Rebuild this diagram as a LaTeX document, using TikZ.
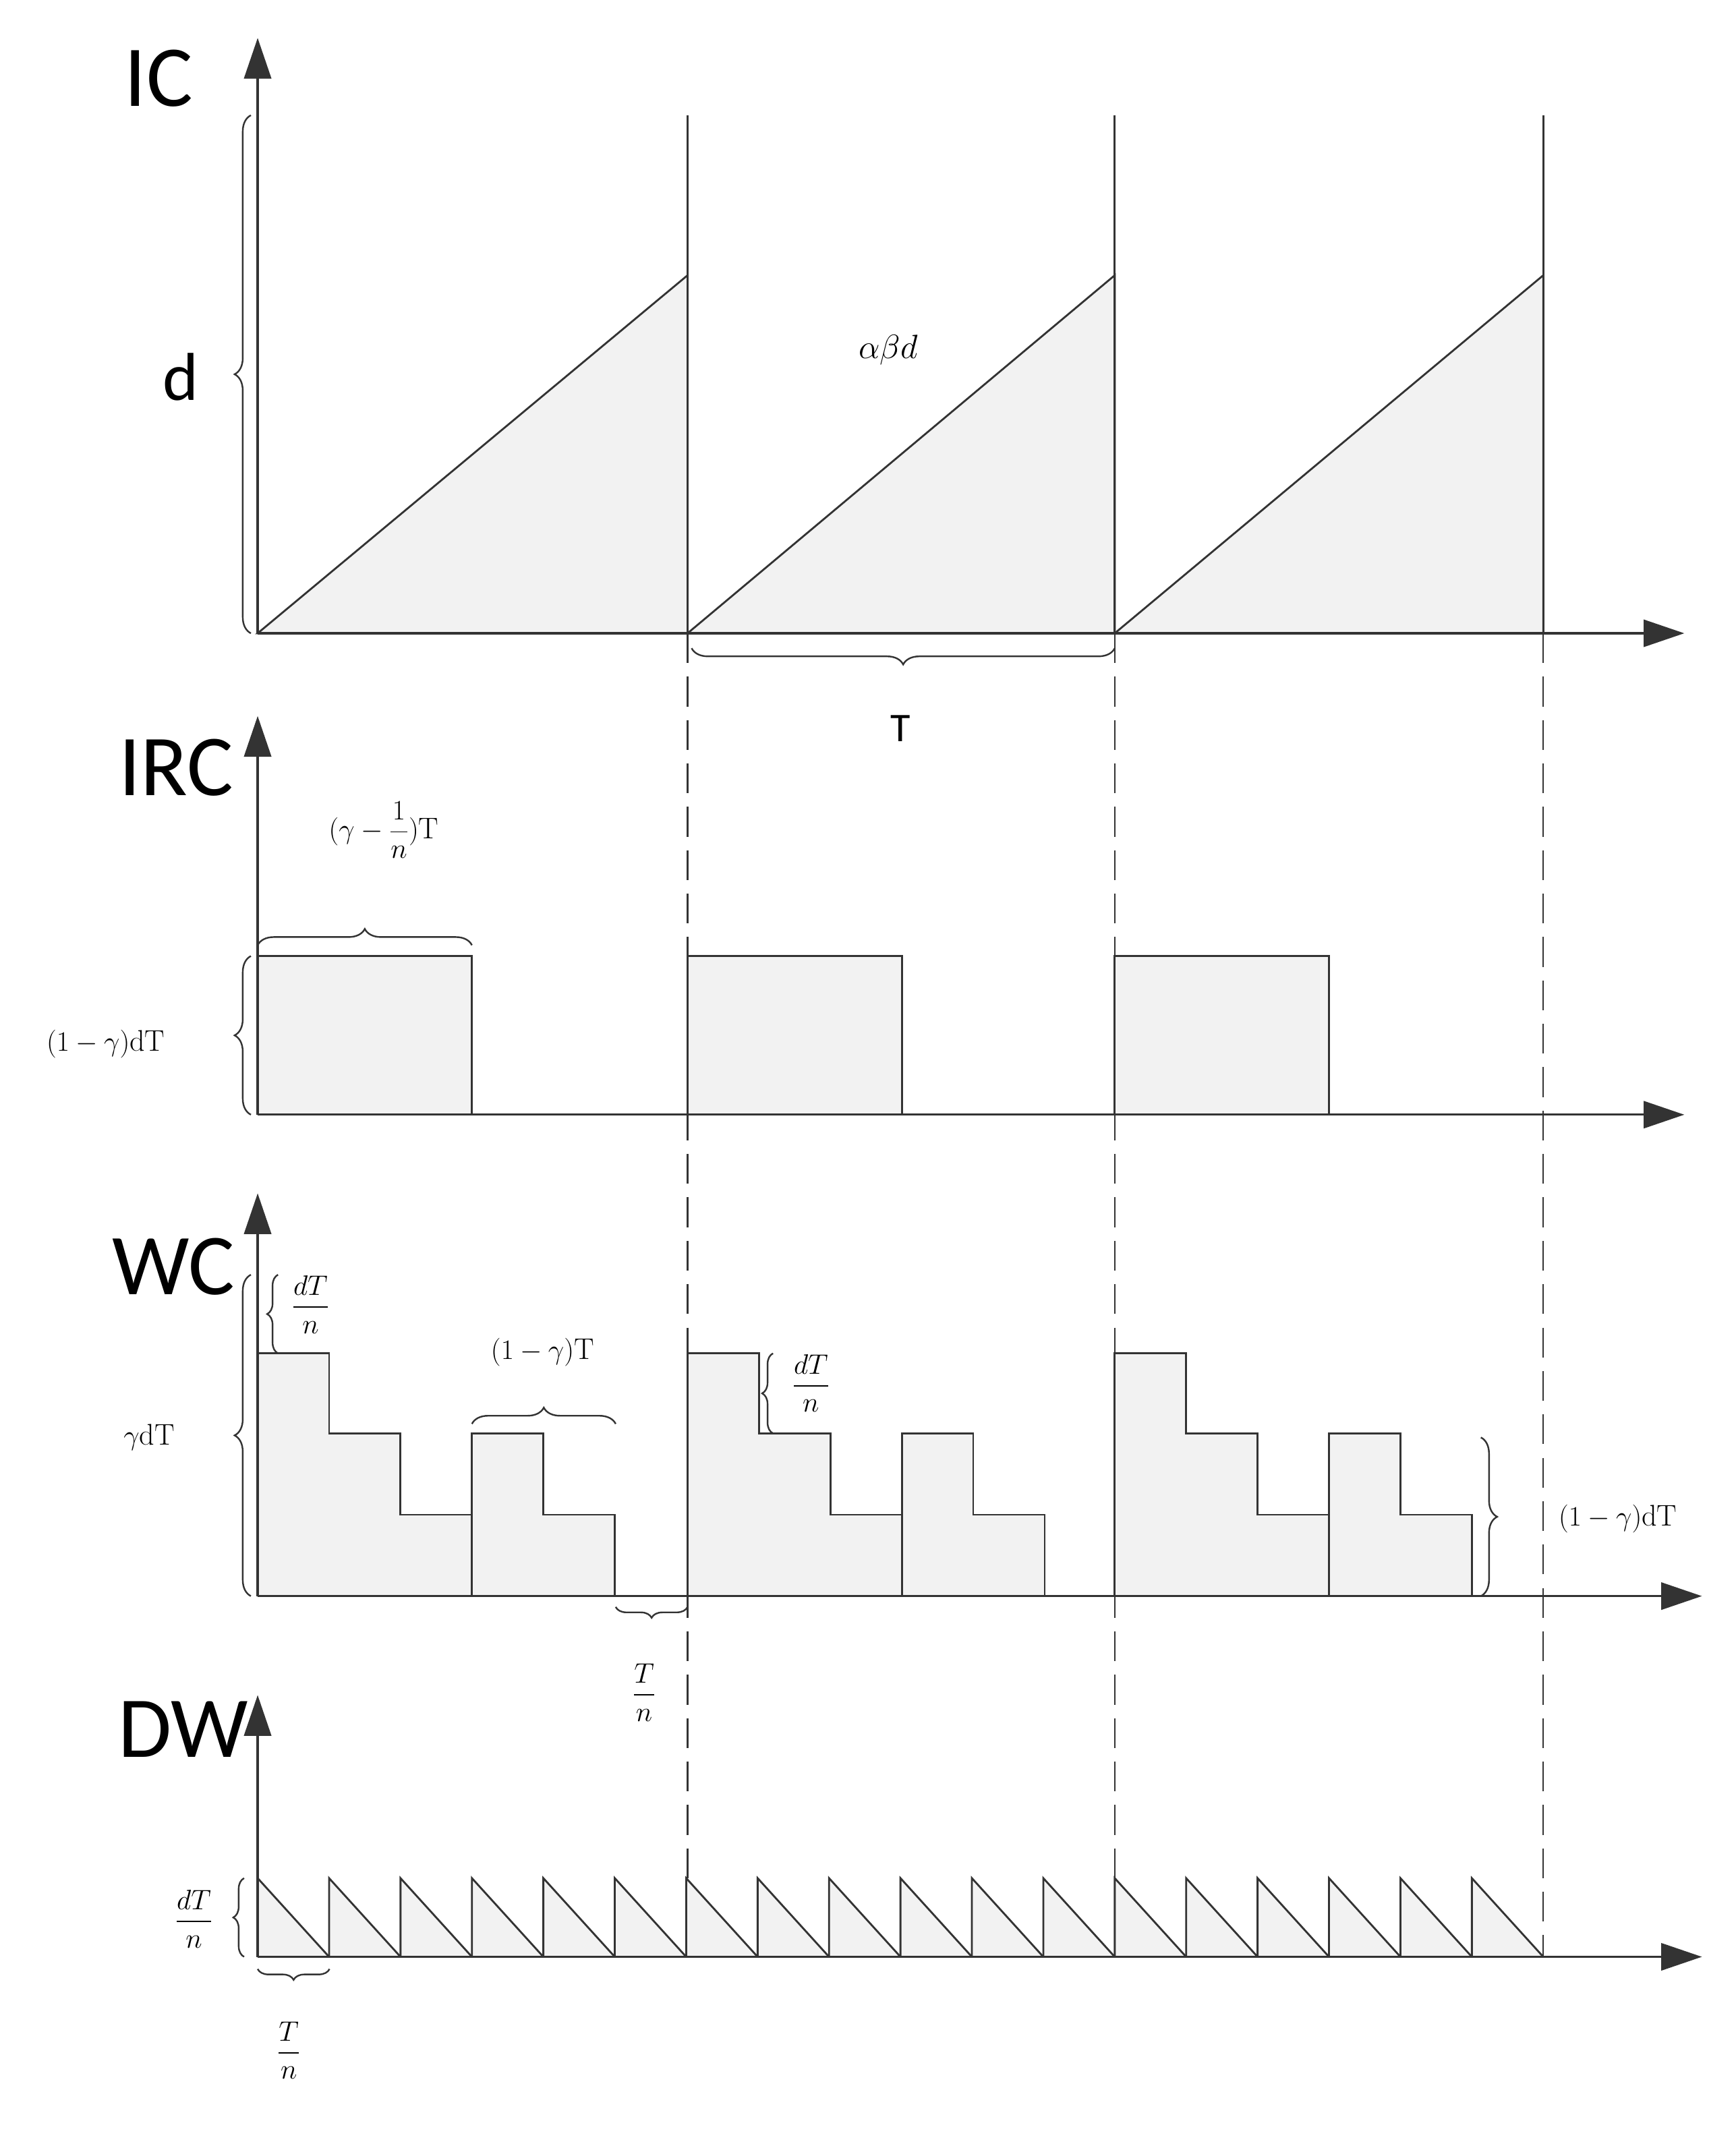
\documentclass[tikz,border=0pt]{standalone}
\usepackage{amsmath}
\usepackage{fontspec}
\newfontfamily\carl{Carlito}
\usetikzlibrary{arrows.meta,decorations.pathreplacing}
\begin{document}
\begin{tikzpicture}[x=1pt,y=-1pt,
 ax/.style={line width=1.6pt,draw=black!80,-{Triangle[length=30pt,width=20pt]}},
 ln/.style={line width=1.4pt,draw=black!80},
 sh/.style={ln,fill=black!5},
 br/.style={line width=1.2pt,draw=black!80,decorate,decoration={brace,amplitude=12pt}},
 big/.style={font=\carl\fontsize{64}{70}\selectfont},
 lab/.style={font=\fontsize{22}{26}\selectfont},
 dsh/.style={line width=1.2pt,draw=black!80,dash pattern=on 22pt off 10pt}]
\useasboundingbox (0,0) rectangle (1280,1584);
\def\s{52.667}
% IC
\foreach \a/\b in {190/507,507/822,822/1138}{\filldraw[sh] (\a,467)--(\b,203)--(\b,467)--cycle;}
\foreach \x in {507,822,1138}{\draw[ln] (\x,85)--(\x,467); \draw[dsh] (\x,467)--(\x,1443);}
\draw[ax] (190,467)--(1242,467);
\draw[ax] (190,467)--(190,28);
\node[big] (ic) at (117,58) {IC};
\draw[br] (185,467)--(185,85);
\node[font=\carl\fontsize{50}{56}\selectfont] (d) at (133,278) {d};
\node[font=\fontsize{28}{32}\selectfont] (abd) at (655,258) {$\alpha\beta d$};
\draw[br] (822,478)--(510,478);
\node[font=\carl\fontsize{30}{34}\selectfont] (t) at (664,537) {T};
% IRC
\foreach \a in {190,507,822}{\filldraw[sh] (\a,822)--(\a,705)--(\a+158,705)--(\a+158,822);}
\draw[ax] (190,822)--(1242,822);
\draw[ax] (190,822)--(190,528);
\node[big] (irc) at (130,566) {IRC};
\draw[br] (190,697)--(348,697);
\node[lab] (g1) at (283,612) {$(\gamma-\dfrac{1}{n})\mathrm{T}$};
\draw[br] (185,822)--(185,705);
\node[lab] (g2) at (78,770) {$(1-\gamma)\mathrm{dT}$};
% WC
\foreach \o in {190,507,822}{
 \filldraw[sh] (\o,1177)--(\o,998)--(\o+\s,998)--(\o+\s,1057)--(\o+2*\s,1057)--(\o+2*\s,1117)--(\o+3*\s,1117)--(\o+3*\s,1177);
 \filldraw[sh] (\o+3*\s,1177)--(\o+3*\s,1057)--(\o+4*\s,1057)--(\o+4*\s,1117)--(\o+5*\s,1117)--(\o+5*\s,1177);}
\draw[ax] (190,1177)--(1255,1177);
\draw[ax] (190,1177)--(190,880);
\node[big] (wc) at (128,934) {WC};
\draw[br] (185,1177)--(185,940);
\node[lab] (g3) at (110,1060) {$\gamma\mathrm{dT}$};
\draw[br,decoration={brace,amplitude=8pt}] (205,998)--(205,940);
\node[lab] (f1) at (229,962) {$\dfrac{dT}{n}$};
\draw[br] (348,1050)--(454,1050);
\node[lab] (g4) at (400,997) {$(1-\gamma)\mathrm{T}$};
\draw[br,decoration={brace,amplitude=8pt}] (570,1057)--(570,998);
\node[lab] (f2) at (598,1020) {$\dfrac{dT}{n}$};
\draw[br] (1092,1060)--(1092,1177);
\node[lab] (g5) at (1193,1120) {$(1-\gamma)\mathrm{dT}$};
\draw[br,decoration={brace,amplitude=8pt}] (507,1185)--(454,1185);
\node[lab] (f3) at (475,1248) {$\dfrac{T}{n}$};
% DW
\foreach \i in {0,...,17}{\filldraw[sh] (190+\i*\s,1443)--(190+\i*\s,1385)--(190+\i*\s+\s,1443);}
\draw[ax] (190,1443)--(1255,1443);
\draw[ax] (190,1443)--(190,1250);
\node[big] (dw) at (135,1275) {DW};
\draw[br,decoration={brace,amplitude=8pt}] (180,1443)--(180,1385);
\node[lab] (f4) at (143,1415) {$\dfrac{dT}{n}$};
\draw[br,decoration={brace,amplitude=8pt}] (243,1452)--(190,1452);
\node[lab] (f5) at (213,1512) {$\dfrac{T}{n}$};
\end{tikzpicture}
\end{document}
